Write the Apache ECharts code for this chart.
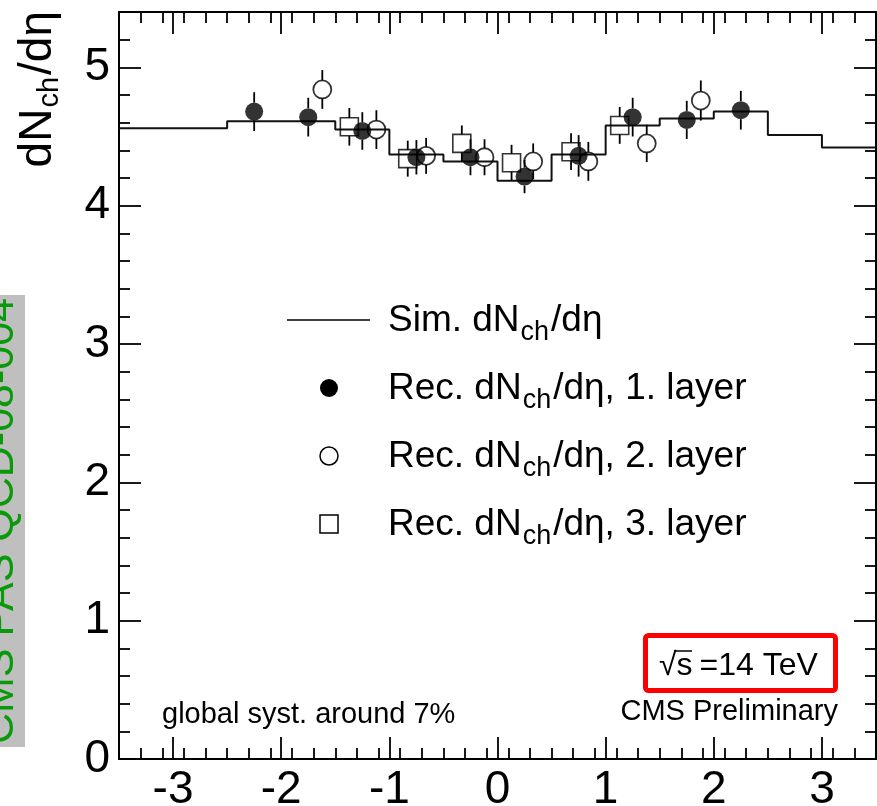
<!DOCTYPE html>
<html><head><meta charset="utf-8">
<script src="https://cdn.jsdelivr.net/npm/echarts@6/dist/echarts.min.js"></script>
<style>html,body{margin:0;padding:0;background:#fff}#c{width:877px;height:806px}</style>
</head><body><div id="c"></div>
<script>
const FONT = '"Liberation Sans", Arial, Helvetica, sans-serif';

// Simulated histogram: bin edges and bin contents
const simEdges  = [-3.5, -3.0, -2.5, -2.0, -1.5, -1.0, -0.5, 0.0, 0.5, 1.0, 1.5, 2.0, 2.5, 3.0, 3.5];
const simValues = [4.56, 4.56, 4.61, 4.61, 4.55, 4.37, 4.32, 4.18, 4.37, 4.58, 4.63, 4.68, 4.51, 4.42];

// Reconstructed, 1st layer (filled circles)
const layer1Eta = [-2.25, -1.75, -1.25, -0.75, -0.25, 0.25, 0.75, 1.25, 1.75, 2.25];
const layer1Val = [4.68, 4.64, 4.54, 4.35, 4.35, 4.21, 4.36, 4.64, 4.62, 4.69];
const layer1Err = [0.14, 0.14, 0.136, 0.124, 0.13, 0.12, 0.15, 0.14, 0.138, 0.14];

// Reconstructed, 2nd layer (open circles)
const layer2Eta = [-1.62, -1.12, -0.66, -0.12, 0.33, 0.84, 1.38, 1.88];
const layer2Val = [4.84, 4.55, 4.36, 4.35, 4.32, 4.32, 4.45, 4.76];
const layer2Err = [0.14, 0.14, 0.13, 0.13, 0.13, 0.14, 0.135, 0.145];

// Reconstructed, 3rd layer (open squares)
const layer3Eta = [-1.37, -0.83, -0.33, 0.13, 0.68, 1.13];
const layer3Val = [4.57, 4.34, 4.45, 4.31, 4.39, 4.58];
const layer3Err = [0.136, 0.13, 0.13, 0.13, 0.133, 0.133];

// Tick labels
const xTickLabels = [-3, -2, -1, 0, 1, 2, 3];
const yTickLabels = [0, 1, 2, 3, 4, 5];
const xRange = [-3.5, 3.5];
const yRange = [0, 5.4];
const minorStep = 0.2;

function minorTicks(lo, hi, majors) {
  const out = [];
  for (let v = lo; v <= hi + 1e-9; v += minorStep) {
    const r = Math.round(v * 10) / 10;
    if (r <= lo || r >= hi) continue;
    if (majors.indexOf(r) >= 0) continue;
    out.push(r);
  }
  return out;
}
const xMinor = minorTicks(xRange[0], xRange[1], xTickLabels);
const yMinor = minorTicks(yRange[0], yRange[1], yTickLabels);

const simData = simEdges.slice(0, -1).map((e, i) => [e, simValues[i]]);
simData.push([simEdges[simEdges.length - 1], simValues[simValues.length - 1]]);

function zip(a, b, c) { return a.map((v, i) => [v, b[i], c[i]]); }

const MARK_R = 9;
function errRender(params, api) {
  const x = api.value(0), y = api.value(1), e = api.value(2);
  const c = api.coord([x, y]);
  const t = api.coord([x, y + e]);
  const b = api.coord([x, y - e]);
  const children = [];
  const st = { stroke: '#000', lineWidth: 1.8 };
  if (c[1] - MARK_R > t[1]) children.push({ type: 'line', shape: { x1: c[0], y1: t[1], x2: c[0], y2: c[1] - MARK_R }, style: st });
  if (b[1] > c[1] + MARK_R) children.push({ type: 'line', shape: { x1: c[0], y1: c[1] + MARK_R, x2: c[0], y2: b[1] }, style: st });
  return { type: 'group', children };
}

const axisBase = (pos, ticks, len, showLine) => ({
  type: 'value', position: pos, min: pos === 'left' || pos === 'right' ? yRange[0] : xRange[0],
  max: pos === 'left' || pos === 'right' ? yRange[1] : xRange[1],
  splitLine: { show: false },
  axisLine: { show: showLine, onZero: false, lineStyle: { color: '#000', width: 2 } },
  axisTick: { show: true, inside: true, length: len, customValues: ticks, lineStyle: { color: '#000', width: 1.8 } },
  axisLabel: { show: false }
});

const xMain = axisBase('bottom', xTickLabels, 22, true);
xMain.axisLabel = { show: true, customValues: xTickLabels, fontSize: 46, fontFamily: FONT, color: '#000', margin: 8 };
const yMain = axisBase('left', yTickLabels, 22, true);
yMain.axisLabel = { show: true, customValues: yTickLabels, fontSize: 46, fontFamily: FONT, color: '#000', margin: 9 };

// main font m, subscript font s, subscript drop (top padding) p
const rich = (m, s, p) => ({
  m: { fontSize: m, fontFamily: FONT, fill: '#000', lineHeight: m, verticalAlign: 'top' },
  s: { fontSize: s, fontFamily: FONT, fill: '#000', lineHeight: m, verticalAlign: 'top', padding: [p, 2, 0, 1] }
});

const legendRows = [320, 388, 456, 524];
const legendTextX = 388;
const legendMarkX = 329;
const LEG_RICH = rich(37, 27, 17);

const option = {
  animation: false,
  backgroundColor: '#fff',
  grid: { left: 119, top: 12, width: 757, height: 747, containLabel: false, outerBoundsMode: 'none' },
  xAxis: [
    xMain,
    axisBase('bottom', xMinor, 11, false),
    axisBase('top', xTickLabels, 22, true),
    axisBase('top', xMinor, 11, false)
  ],
  yAxis: [
    yMain,
    axisBase('left', yMinor, 11, false),
    axisBase('right', yTickLabels, 22, true),
    axisBase('right', yMinor, 11, false)
  ],
  series: [
    { type: 'line', step: 'end', data: simData, showSymbol: false, symbol: 'none',
      lineStyle: { color: '#111', width: 2 }, z: 2 },
    { type: 'custom', renderItem: errRender, data: zip(layer1Eta, layer1Val, layer1Err), z: 3 },
    { type: 'custom', renderItem: errRender, data: zip(layer2Eta, layer2Val, layer2Err), z: 3 },
    { type: 'custom', renderItem: errRender, data: zip(layer3Eta, layer3Val, layer3Err), z: 3 },
    { type: 'scatter', symbol: 'rect', symbolSize: 18, data: layer3Eta.map((x, i) => [x, layer3Val[i]]),
      itemStyle: { color: 'rgba(0,0,0,0)', borderColor: '#000', borderWidth: 1.6 }, z: 4 },
    { type: 'scatter', symbol: 'circle', symbolSize: 18, data: layer1Eta.map((x, i) => [x, layer1Val[i]]),
      itemStyle: { color: '#000' }, z: 5 },
    { type: 'scatter', symbol: 'circle', symbolSize: 18, data: layer2Eta.map((x, i) => [x, layer2Val[i]]),
      itemStyle: { color: 'rgba(0,0,0,0)', borderColor: '#000', borderWidth: 1.8 }, z: 6 }
  ],
  graphic: [
    // side label
    { type: 'rect', shape: { x: 0, y: 295, width: 25, height: 452 }, style: { fill: '#bfbfbf' }, z: 1 },
    { type: 'text', x: 1, y: 521, rotation: Math.PI / 2, z: 2,
      style: { text: 'CMS PAS QCD-08-004', fontSize: 43, fontFamily: FONT, fill: '#0a990a', align: 'center', verticalAlign: 'middle' } },
    // y axis title
    { type: 'text', x: 15, y: 11, rotation: Math.PI / 2,
      style: { text: '{m|dN}{s|ch}{m|/dη}', align: 'right', verticalAlign: 'top', rich: rich(46, 29, 20) } },
    // legend
    { type: 'line', shape: { x1: 287, y1: legendRows[0], x2: 370, y2: legendRows[0] }, style: { stroke: '#000', lineWidth: 1.5 } },
    { type: 'circle', shape: { cx: legendMarkX, cy: legendRows[1], r: 9 }, style: { fill: '#000' } },
    { type: 'circle', shape: { cx: legendMarkX, cy: legendRows[2], r: 9 }, style: { fill: 'none', stroke: '#000', lineWidth: 1.5 } },
    { type: 'rect', shape: { x: legendMarkX - 9, y: legendRows[3] - 9, width: 18, height: 18 }, style: { fill: 'none', stroke: '#000', lineWidth: 1.5 } },
    { type: 'text', x: legendTextX, y: legendRows[0] - 18, style: { text: '{m|Sim. dN}{s|ch}{m|/dη}', align: 'left', verticalAlign: 'top', rich: LEG_RICH } },
    { type: 'text', x: legendTextX, y: legendRows[1] - 18, style: { text: '{m|Rec. dN}{s|ch}{m|/dη, 1. layer}', align: 'left', verticalAlign: 'top', rich: LEG_RICH } },
    { type: 'text', x: legendTextX, y: legendRows[2] - 18, style: { text: '{m|Rec. dN}{s|ch}{m|/dη, 2. layer}', align: 'left', verticalAlign: 'top', rich: LEG_RICH } },
    { type: 'text', x: legendTextX, y: legendRows[3] - 18, style: { text: '{m|Rec. dN}{s|ch}{m|/dη, 3. layer}', align: 'left', verticalAlign: 'top', rich: LEG_RICH } },
    // annotations
    { type: 'rect', shape: { x: 645.5, y: 635.5, width: 190, height: 55, r: 3 }, style: { fill: 'none', stroke: '#ff0000', lineWidth: 5 } },
    { type: 'text', x: 659, y: 666, style: { text: '{a|√s}{b|=14 TeV}', align: 'left', verticalAlign: 'middle',
      rich: { a: { fontSize: 32, fontFamily: FONT, fill: '#000' }, b: { fontSize: 32, fontFamily: FONT, fill: '#000', padding: [0, 0, 0, 7] } } } },
    { type: 'line', shape: { x1: 674, y1: 651, x2: 692, y2: 651 }, style: { stroke: '#000', lineWidth: 1.5 } },
    { type: 'text', x: 838, y: 712, style: { text: 'CMS Preliminary', fontSize: 29, fontFamily: FONT, fill: '#000', align: 'right', verticalAlign: 'middle' } },
    { type: 'text', x: 162, y: 715, style: { text: 'global syst. around 7%', fontSize: 29, fontFamily: FONT, fill: '#000', align: 'left', verticalAlign: 'middle' } }
  ]
};

const chart = echarts.init(document.getElementById('c'), null, { renderer: 'canvas' });
chart.setOption(option);
</script>
</body></html>
